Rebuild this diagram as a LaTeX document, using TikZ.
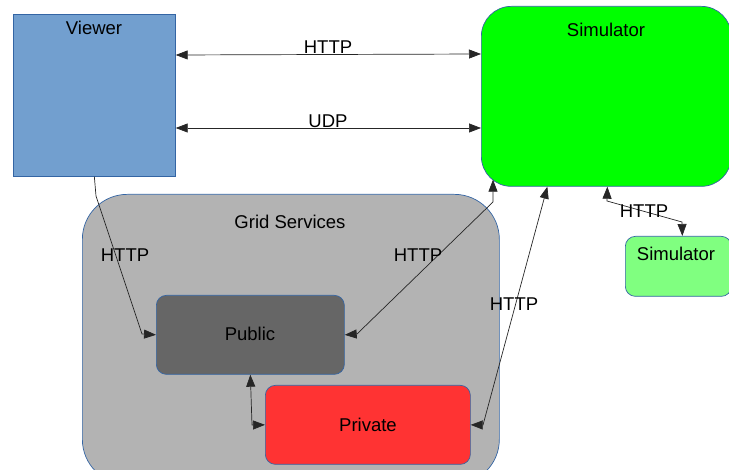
\documentclass[tikz,border=0pt]{standalone}
\usepackage{fontspec}
\setmainfont{Liberation Sans}
\usetikzlibrary{arrows.meta}
\definecolor{boxline}{HTML}{3465A4}
\definecolor{viewerfill}{HTML}{729FCF}
\definecolor{simfill}{HTML}{00FF00}
\definecolor{smallfill}{HTML}{80FF80}
\definecolor{gridfill}{HTML}{B3B3B3}
\definecolor{pubfill}{HTML}{666666}
\definecolor{privfill}{HTML}{FF3333}
\begin{document}
\begin{tikzpicture}[x=1pt,y=-1pt,
  every node/.style={font=\fontsize{18.5}{22}\selectfont},
  box/.style={draw=boxline, line width=0.7pt, inner sep=0pt, anchor=north west},
  txt/.style={inner sep=0pt, text=black},
  arr/.style={draw=black!85, line width=0.7pt, {Triangle[length=12pt,width=9pt]}-{Triangle[length=12pt,width=9pt]}},
  arrend/.style={draw=black!85, line width=0.7pt, -{Triangle[length=12pt,width=9pt]}}
]
\useasboundingbox (0,0) rectangle (729,470);
\begin{scope}
\clip (0,0) rectangle (729,470);
\node[box, fill=viewerfill, minimum width=162pt, minimum height=162pt] (viewer) at (13,14) {};
\node[box, fill=simfill, rounded corners=30pt, minimum width=250pt, minimum height=180pt] (sim) at (481,6) {};
\node[box, fill=smallfill, rounded corners=10pt, minimum width=106pt, minimum height=60pt] (small) at (625,236) {};
\node[box, fill=gridfill, rounded corners=45pt, minimum width=417pt, minimum height=290pt] (grid) at (82,194) {};
\node[box, fill=pubfill, rounded corners=10pt, minimum width=188pt, minimum height=79pt] (public) at (156,295) {};
\node[box, fill=privfill, rounded corners=10pt, minimum width=205pt, minimum height=79pt] (private) at (265,385) {};
\end{scope}

\node[txt] (tviewer) at (94,28) {Viewer};
\node[txt] (tsim) at (606,30) {Simulator};
\node[txt] (tsmall) at (676,254) {Simulator};
\node[txt] (tgrid) at (290,222) {Grid Services};
\node[txt] (tpublic) at (250,334) {Public};
\node[txt] (tprivate) at (368,425) {Private};

% connectors
\draw[arr] ([yshift=-41pt]viewer.north east) -- ([yshift=-48pt]sim.north west);
\draw[arr] ([yshift=-114pt]viewer.north east) -- ([yshift=-122pt]sim.north west);
\draw[arrend] (viewer.south) -- (96,196) -- (142,334) -- (public.west);
\draw[arr] (public.east) -- (357,334) -- (493,202) -- ([xshift=12pt,yshift=7pt]sim.south west);
\draw[arr] (private.east) -- (483,425) -- ([xshift=-59pt]sim.south);
\draw[arr] (public.south) -- (252,425) -- (private.west);
\draw[arr] ([xshift=1pt]sim.south) -- (607,201) -- (682,222) -- ([xshift=4pt]small.north);

% labels
\node[txt] (l1) at (328,47) {HTTP};
\node[txt] (l2) at (328,121) {UDP};
\node[txt] (l3) at (125,255) {HTTP};
\node[txt] (l4) at (418,255) {HTTP};
\node[txt] (l5) at (514,304) {HTTP};
\node[txt] (l6) at (644,211) {HTTP};
\end{tikzpicture}
\end{document}
